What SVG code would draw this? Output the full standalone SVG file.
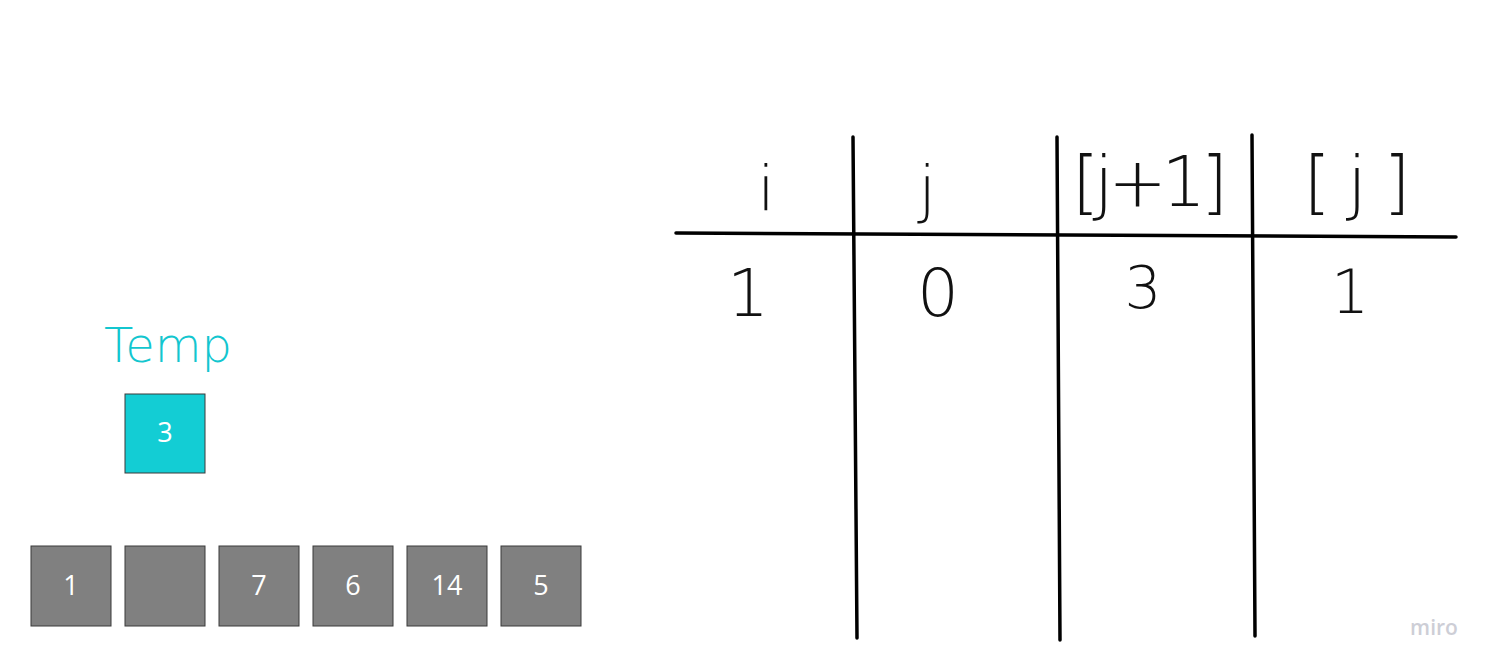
<svg xmlns="http://www.w3.org/2000/svg" width="1493" height="669" viewBox="0 0 1493 669">
<style>
.box{fill:#808080;stroke:#3a3a3a;stroke-width:1}
.tbox{fill:#13CDD4;stroke:#3a3a3a;stroke-width:1}
.num{font-family:"Open Sans","Noto Sans",sans-serif;font-size:27px;fill:#ffffff;text-anchor:middle}
.hw{font-family:"DejaVu Sans","Liberation Sans",sans-serif;font-weight:200;fill:#111111;text-anchor:middle}
.line{stroke:#000;stroke-width:3.5;fill:none;stroke-linecap:round}
</style>
<rect width="1493" height="669" fill="#ffffff"/>
<g id="table">
<path class="line" d="M676 233 L1456 237"/>
<path class="line" d="M853 137 L857 638"/>
<path class="line" d="M1057 137 L1060 640"/>
<path class="line" d="M1252 135 L1255 636"/>
</g>
<g id="headers">
<text class="hw" x="766" y="210" font-size="62">i</text>
<text class="hw" x="927" y="210" font-size="62">j</text>
<text class="hw" x="1150" y="206" font-size="70" textLength="156" lengthAdjust="spacing">[j+1]</text>
<text class="hw" x="1357" y="206" font-size="70" textLength="107" lengthAdjust="spacing">[j]</text>
</g>
<g id="row1">
<text class="hw" x="748" y="316" font-size="66">1</text>
<text class="hw" x="938" y="316" font-size="66">0</text>
<text class="hw" x="1143" y="308" font-size="58">3</text>
<text class="hw" x="1350" y="313" font-size="60">1</text>
</g>
<g id="temp">
<text x="168" y="362" font-family="DejaVu Sans,sans-serif" font-weight="200" font-size="48" fill="#13C6CF" text-anchor="middle">Temp</text>
<rect class="tbox" x="125" y="394" width="80" height="79"/>
<text class="num" x="165" y="442">3</text>
</g>
<g id="array">
<g id="a0"><rect class="box" x="31" y="546" width="80" height="80"/><text class="num" x="71" y="595">1</text></g>
<g id="a1"><rect class="box" x="125" y="546" width="80" height="80"/></g>
<g id="a2"><rect class="box" x="219" y="546" width="80" height="80"/><text class="num" x="259" y="595">7</text></g>
<g id="a3"><rect class="box" x="313" y="546" width="80" height="80"/><text class="num" x="353" y="595">6</text></g>
<g id="a4"><rect class="box" x="407" y="546" width="80" height="80"/><text class="num" x="447" y="595">14</text></g>
<g id="a5"><rect class="box" x="501" y="546" width="80" height="80"/><text class="num" x="541" y="595">5</text></g>
</g>
<g id="connectors"/>
<text x="1434" y="635" font-family="Open Sans,sans-serif" font-weight="600" font-size="21" fill="#cdced6" text-anchor="middle">miro</text>
</svg>
